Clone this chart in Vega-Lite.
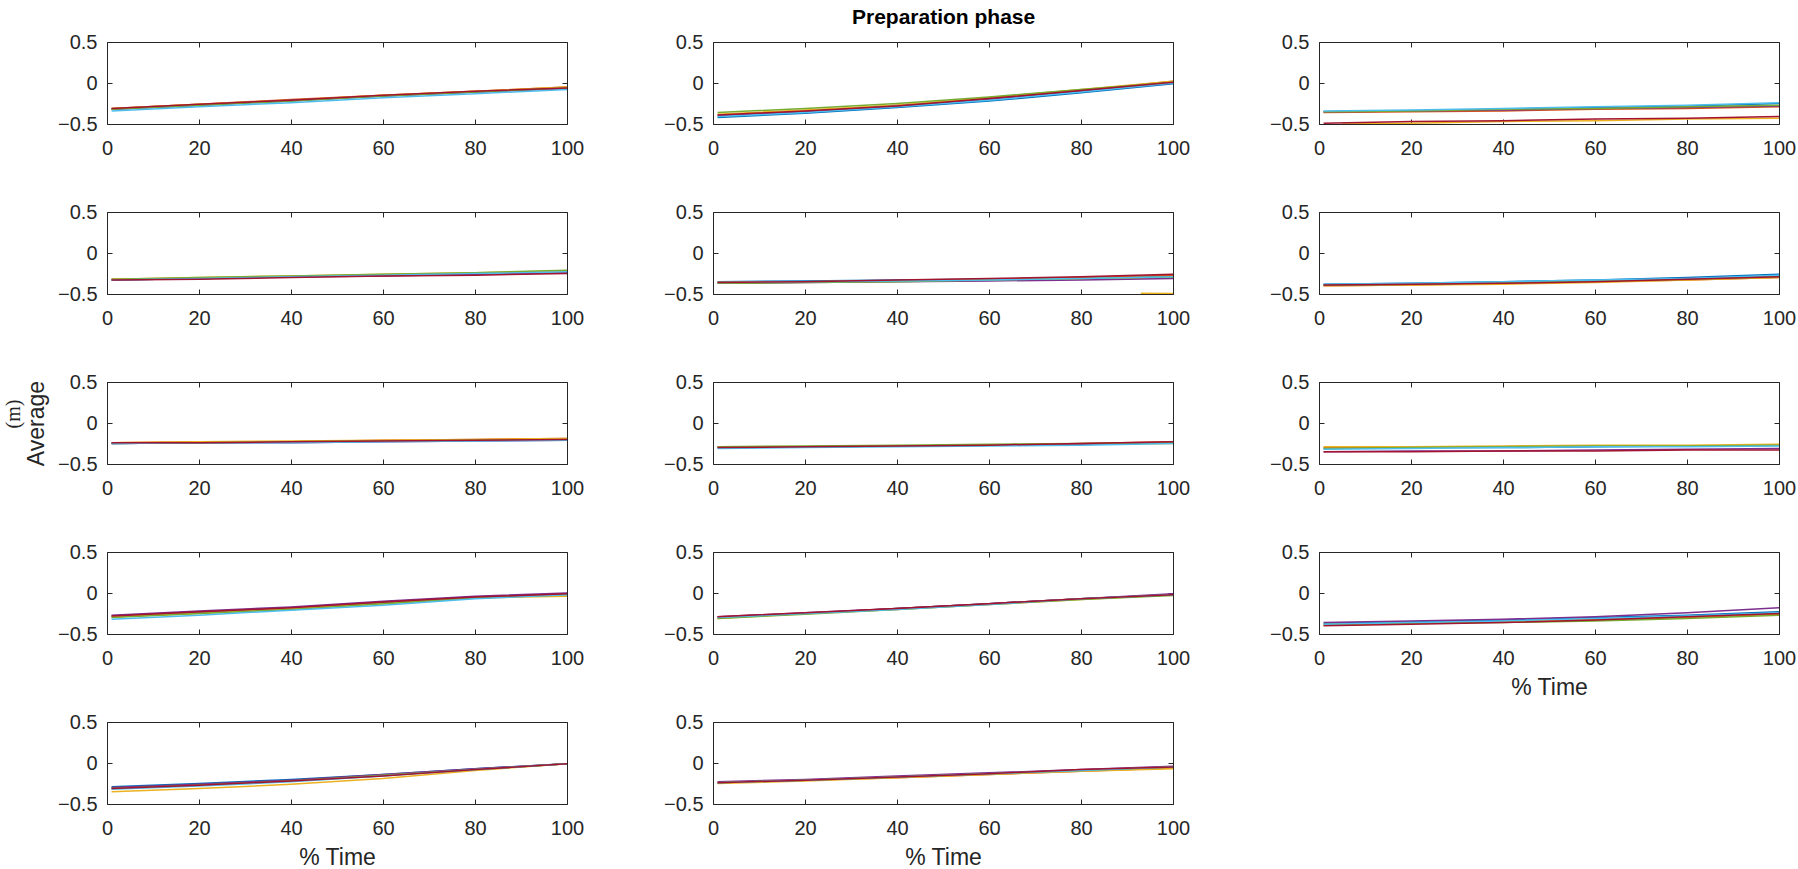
{
"$schema":"https://vega.github.io/schema/vega-lite/v6.json",
"autosize":{"type":"none"},
"padding":{"left":107,"top":42,"right":1691,"bottom":827},
"title":{"text":"Preparation phase","anchor":"middle","fontSize":21,"fontWeight":"bold","font":"Liberation Sans","color":"#000000","offset":5,"dy":18,"dx":44,"baseline":"alphabetic"},
"data":{"values":[
{"p":1,"s":1,"x":1,"y":-0.32},{"p":1,"s":1,"x":20,"y":-0.27},{"p":1,"s":1,"x":40,"y":-0.22},{"p":1,"s":1,"x":60,"y":-0.16},{"p":1,"s":1,"x":80,"y":-0.11},{"p":1,"s":1,"x":100,"y":-0.06},
{"p":1,"s":2,"x":1,"y":-0.31},{"p":1,"s":2,"x":20,"y":-0.26},{"p":1,"s":2,"x":40,"y":-0.20},{"p":1,"s":2,"x":60,"y":-0.15},{"p":1,"s":2,"x":80,"y":-0.10},{"p":1,"s":2,"x":100,"y":-0.05},
{"p":1,"s":3,"x":1,"y":-0.31},{"p":1,"s":3,"x":20,"y":-0.26},{"p":1,"s":3,"x":40,"y":-0.21},{"p":1,"s":3,"x":60,"y":-0.15},{"p":1,"s":3,"x":80,"y":-0.10},{"p":1,"s":3,"x":100,"y":-0.05},
{"p":1,"s":4,"x":1,"y":-0.32},{"p":1,"s":4,"x":20,"y":-0.27},{"p":1,"s":4,"x":40,"y":-0.21},{"p":1,"s":4,"x":60,"y":-0.16},{"p":1,"s":4,"x":80,"y":-0.11},{"p":1,"s":4,"x":100,"y":-0.07},
{"p":1,"s":5,"x":1,"y":-0.32},{"p":1,"s":5,"x":20,"y":-0.27},{"p":1,"s":5,"x":40,"y":-0.22},{"p":1,"s":5,"x":60,"y":-0.16},{"p":1,"s":5,"x":80,"y":-0.11},{"p":1,"s":5,"x":100,"y":-0.06},
{"p":1,"s":6,"x":1,"y":-0.34},{"p":1,"s":6,"x":20,"y":-0.29},{"p":1,"s":6,"x":40,"y":-0.24},{"p":1,"s":6,"x":60,"y":-0.18},{"p":1,"s":6,"x":80,"y":-0.13},{"p":1,"s":6,"x":100,"y":-0.08},
{"p":1,"s":7,"x":1,"y":-0.31},{"p":1,"s":7,"x":20,"y":-0.26},{"p":1,"s":7,"x":40,"y":-0.21},{"p":1,"s":7,"x":60,"y":-0.15},{"p":1,"s":7,"x":80,"y":-0.10},{"p":1,"s":7,"x":100,"y":-0.06},
{"p":2,"s":1,"x":1,"y":-0.42},{"p":2,"s":1,"x":20,"y":-0.37},{"p":2,"s":1,"x":40,"y":-0.30},{"p":2,"s":1,"x":60,"y":-0.22},{"p":2,"s":1,"x":80,"y":-0.12},{"p":2,"s":1,"x":100,"y":-0.01},
{"p":2,"s":2,"x":1,"y":-0.39},{"p":2,"s":2,"x":20,"y":-0.34},{"p":2,"s":2,"x":40,"y":-0.27},{"p":2,"s":2,"x":60,"y":-0.19},{"p":2,"s":2,"x":80,"y":-0.09},{"p":2,"s":2,"x":100,"y":0.02},
{"p":2,"s":3,"x":1,"y":-0.38},{"p":2,"s":3,"x":20,"y":-0.33},{"p":2,"s":3,"x":40,"y":-0.27},{"p":2,"s":3,"x":60,"y":-0.18},{"p":2,"s":3,"x":80,"y":-0.08},{"p":2,"s":3,"x":100,"y":0.02},
{"p":2,"s":4,"x":1,"y":-0.40},{"p":2,"s":4,"x":20,"y":-0.35},{"p":2,"s":4,"x":40,"y":-0.28},{"p":2,"s":4,"x":60,"y":-0.20},{"p":2,"s":4,"x":80,"y":-0.10},{"p":2,"s":4,"x":100,"y":0.00},
{"p":2,"s":5,"x":1,"y":-0.36},{"p":2,"s":5,"x":20,"y":-0.31},{"p":2,"s":5,"x":40,"y":-0.25},{"p":2,"s":5,"x":60,"y":-0.17},{"p":2,"s":5,"x":80,"y":-0.08},{"p":2,"s":5,"x":100,"y":0.01},
{"p":2,"s":6,"x":1,"y":-0.41},{"p":2,"s":6,"x":20,"y":-0.36},{"p":2,"s":6,"x":40,"y":-0.29},{"p":2,"s":6,"x":60,"y":-0.21},{"p":2,"s":6,"x":80,"y":-0.11},{"p":2,"s":6,"x":100,"y":0.00},
{"p":2,"s":7,"x":1,"y":-0.39},{"p":2,"s":7,"x":20,"y":-0.34},{"p":2,"s":7,"x":40,"y":-0.28},{"p":2,"s":7,"x":60,"y":-0.19},{"p":2,"s":7,"x":80,"y":-0.09},{"p":2,"s":7,"x":100,"y":0.01},
{"p":3,"s":1,"x":1,"y":-0.35},{"p":3,"s":1,"x":20,"y":-0.34},{"p":3,"s":1,"x":40,"y":-0.32},{"p":3,"s":1,"x":60,"y":-0.30},{"p":3,"s":1,"x":80,"y":-0.28},{"p":3,"s":1,"x":100,"y":-0.25},
{"p":3,"s":2,"x":1,"y":-0.36},{"p":3,"s":2,"x":20,"y":-0.35},{"p":3,"s":2,"x":40,"y":-0.34},{"p":3,"s":2,"x":60,"y":-0.32},{"p":3,"s":2,"x":80,"y":-0.31},{"p":3,"s":2,"x":100,"y":-0.29},
{"p":3,"s":3,"x":5,"y":-0.50},{"p":3,"s":3,"x":20,"y":-0.49},{"p":3,"s":3,"x":40,"y":-0.47},{"p":3,"s":3,"x":60,"y":-0.46},{"p":3,"s":3,"x":80,"y":-0.44},{"p":3,"s":3,"x":100,"y":-0.43},
{"p":3,"s":4,"x":1,"y":-0.35},{"p":3,"s":4,"x":20,"y":-0.34},{"p":3,"s":4,"x":40,"y":-0.33},{"p":3,"s":4,"x":60,"y":-0.31},{"p":3,"s":4,"x":80,"y":-0.30},{"p":3,"s":4,"x":100,"y":-0.28},
{"p":3,"s":5,"x":1,"y":-0.35},{"p":3,"s":5,"x":20,"y":-0.34},{"p":3,"s":5,"x":40,"y":-0.32},{"p":3,"s":5,"x":60,"y":-0.31},{"p":3,"s":5,"x":80,"y":-0.29},{"p":3,"s":5,"x":100,"y":-0.27},
{"p":3,"s":6,"x":1,"y":-0.34},{"p":3,"s":6,"x":20,"y":-0.33},{"p":3,"s":6,"x":40,"y":-0.31},{"p":3,"s":6,"x":60,"y":-0.29},{"p":3,"s":6,"x":80,"y":-0.27},{"p":3,"s":6,"x":100,"y":-0.24},
{"p":3,"s":7,"x":1,"y":-0.49},{"p":3,"s":7,"x":20,"y":-0.47},{"p":3,"s":7,"x":40,"y":-0.46},{"p":3,"s":7,"x":60,"y":-0.44},{"p":3,"s":7,"x":80,"y":-0.43},{"p":3,"s":7,"x":100,"y":-0.41},
{"p":4,"s":1,"x":1,"y":-0.33},{"p":4,"s":1,"x":20,"y":-0.31},{"p":4,"s":1,"x":40,"y":-0.29},{"p":4,"s":1,"x":60,"y":-0.27},{"p":4,"s":1,"x":80,"y":-0.25},{"p":4,"s":1,"x":100,"y":-0.22},
{"p":4,"s":2,"x":1,"y":-0.32},{"p":4,"s":2,"x":20,"y":-0.31},{"p":4,"s":2,"x":40,"y":-0.29},{"p":4,"s":2,"x":60,"y":-0.27},{"p":4,"s":2,"x":80,"y":-0.25},{"p":4,"s":2,"x":100,"y":-0.23},
{"p":4,"s":3,"x":1,"y":-0.32},{"p":4,"s":3,"x":20,"y":-0.30},{"p":4,"s":3,"x":40,"y":-0.28},{"p":4,"s":3,"x":60,"y":-0.26},{"p":4,"s":3,"x":80,"y":-0.24},{"p":4,"s":3,"x":100,"y":-0.22},
{"p":4,"s":4,"x":1,"y":-0.33},{"p":4,"s":4,"x":20,"y":-0.31},{"p":4,"s":4,"x":40,"y":-0.29},{"p":4,"s":4,"x":60,"y":-0.28},{"p":4,"s":4,"x":80,"y":-0.26},{"p":4,"s":4,"x":100,"y":-0.24},
{"p":4,"s":5,"x":1,"y":-0.32},{"p":4,"s":5,"x":20,"y":-0.30},{"p":4,"s":5,"x":40,"y":-0.28},{"p":4,"s":5,"x":60,"y":-0.26},{"p":4,"s":5,"x":80,"y":-0.24},{"p":4,"s":5,"x":100,"y":-0.21},
{"p":4,"s":6,"x":1,"y":-0.33},{"p":4,"s":6,"x":20,"y":-0.31},{"p":4,"s":6,"x":40,"y":-0.29},{"p":4,"s":6,"x":60,"y":-0.27},{"p":4,"s":6,"x":80,"y":-0.25},{"p":4,"s":6,"x":100,"y":-0.23},
{"p":4,"s":7,"x":1,"y":-0.33},{"p":4,"s":7,"x":20,"y":-0.32},{"p":4,"s":7,"x":40,"y":-0.30},{"p":4,"s":7,"x":60,"y":-0.28},{"p":4,"s":7,"x":80,"y":-0.27},{"p":4,"s":7,"x":100,"y":-0.25},
{"p":5,"s":1,"x":1,"y":-0.35},{"p":5,"s":1,"x":20,"y":-0.34},{"p":5,"s":1,"x":40,"y":-0.33},{"p":5,"s":1,"x":60,"y":-0.32},{"p":5,"s":1,"x":80,"y":-0.30},{"p":5,"s":1,"x":100,"y":-0.28},
{"p":5,"s":2,"x":1,"y":-0.36},{"p":5,"s":2,"x":20,"y":-0.35},{"p":5,"s":2,"x":40,"y":-0.34},{"p":5,"s":2,"x":60,"y":-0.32},{"p":5,"s":2,"x":80,"y":-0.30},{"p":5,"s":2,"x":100,"y":-0.27},
{"p":5,"s":3,"x":1,"y":-0.36},{"p":5,"s":3,"x":20,"y":-0.35},{"p":5,"s":3,"x":40,"y":-0.34},{"p":5,"s":3,"x":60,"y":-0.33},{"p":5,"s":3,"x":80,"y":-0.32},{"p":5,"s":3,"x":100,"y":-0.30},
{"p":5,"s":4,"x":1,"y":-0.37},{"p":5,"s":4,"x":20,"y":-0.36},{"p":5,"s":4,"x":40,"y":-0.35},{"p":5,"s":4,"x":60,"y":-0.34},{"p":5,"s":4,"x":80,"y":-0.33},{"p":5,"s":4,"x":100,"y":-0.31},
{"p":5,"s":5,"x":1,"y":-0.37},{"p":5,"s":5,"x":20,"y":-0.36},{"p":5,"s":5,"x":40,"y":-0.35},{"p":5,"s":5,"x":60,"y":-0.33},{"p":5,"s":5,"x":80,"y":-0.31},{"p":5,"s":5,"x":100,"y":-0.29},
{"p":5,"s":6,"x":1,"y":-0.36},{"p":5,"s":6,"x":20,"y":-0.35},{"p":5,"s":6,"x":40,"y":-0.34},{"p":5,"s":6,"x":60,"y":-0.33},{"p":5,"s":6,"x":80,"y":-0.31},{"p":5,"s":6,"x":100,"y":-0.29},
{"p":5,"s":7,"x":1,"y":-0.36},{"p":5,"s":7,"x":20,"y":-0.35},{"p":5,"s":7,"x":40,"y":-0.33},{"p":5,"s":7,"x":60,"y":-0.31},{"p":5,"s":7,"x":80,"y":-0.29},{"p":5,"s":7,"x":100,"y":-0.26},
{"p":5,"s":8,"x":93,"y":-0.49},{"p":5,"s":8,"x":100,"y":-0.495},
{"p":6,"s":1,"x":1,"y":-0.38},{"p":6,"s":1,"x":20,"y":-0.37},{"p":6,"s":1,"x":40,"y":-0.35},{"p":6,"s":1,"x":60,"y":-0.33},{"p":6,"s":1,"x":80,"y":-0.30},{"p":6,"s":1,"x":100,"y":-0.26},
{"p":6,"s":2,"x":1,"y":-0.40},{"p":6,"s":2,"x":20,"y":-0.39},{"p":6,"s":2,"x":40,"y":-0.37},{"p":6,"s":2,"x":60,"y":-0.35},{"p":6,"s":2,"x":80,"y":-0.33},{"p":6,"s":2,"x":100,"y":-0.30},
{"p":6,"s":3,"x":1,"y":-0.40},{"p":6,"s":3,"x":20,"y":-0.39},{"p":6,"s":3,"x":40,"y":-0.38},{"p":6,"s":3,"x":60,"y":-0.36},{"p":6,"s":3,"x":80,"y":-0.33},{"p":6,"s":3,"x":100,"y":-0.30},
{"p":6,"s":4,"x":1,"y":-0.39},{"p":6,"s":4,"x":20,"y":-0.38},{"p":6,"s":4,"x":40,"y":-0.36},{"p":6,"s":4,"x":60,"y":-0.34},{"p":6,"s":4,"x":80,"y":-0.31},{"p":6,"s":4,"x":100,"y":-0.28},
{"p":6,"s":5,"x":1,"y":-0.39},{"p":6,"s":5,"x":20,"y":-0.38},{"p":6,"s":5,"x":40,"y":-0.36},{"p":6,"s":5,"x":60,"y":-0.34},{"p":6,"s":5,"x":80,"y":-0.32},{"p":6,"s":5,"x":100,"y":-0.29},
{"p":6,"s":6,"x":1,"y":-0.38},{"p":6,"s":6,"x":20,"y":-0.37},{"p":6,"s":6,"x":40,"y":-0.35},{"p":6,"s":6,"x":60,"y":-0.33},{"p":6,"s":6,"x":80,"y":-0.31},{"p":6,"s":6,"x":100,"y":-0.27},
{"p":6,"s":7,"x":1,"y":-0.39},{"p":6,"s":7,"x":20,"y":-0.38},{"p":6,"s":7,"x":40,"y":-0.37},{"p":6,"s":7,"x":60,"y":-0.35},{"p":6,"s":7,"x":80,"y":-0.32},{"p":6,"s":7,"x":100,"y":-0.29},
{"p":7,"s":1,"x":1,"y":-0.25},{"p":7,"s":1,"x":20,"y":-0.24},{"p":7,"s":1,"x":40,"y":-0.23},{"p":7,"s":1,"x":60,"y":-0.22},{"p":7,"s":1,"x":80,"y":-0.21},{"p":7,"s":1,"x":100,"y":-0.20},
{"p":7,"s":2,"x":1,"y":-0.24},{"p":7,"s":2,"x":20,"y":-0.23},{"p":7,"s":2,"x":40,"y":-0.23},{"p":7,"s":2,"x":60,"y":-0.21},{"p":7,"s":2,"x":80,"y":-0.20},{"p":7,"s":2,"x":100,"y":-0.19},
{"p":7,"s":3,"x":1,"y":-0.24},{"p":7,"s":3,"x":20,"y":-0.23},{"p":7,"s":3,"x":40,"y":-0.22},{"p":7,"s":3,"x":60,"y":-0.21},{"p":7,"s":3,"x":80,"y":-0.20},{"p":7,"s":3,"x":100,"y":-0.19},
{"p":7,"s":4,"x":1,"y":-0.25},{"p":7,"s":4,"x":20,"y":-0.24},{"p":7,"s":4,"x":40,"y":-0.24},{"p":7,"s":4,"x":60,"y":-0.23},{"p":7,"s":4,"x":80,"y":-0.22},{"p":7,"s":4,"x":100,"y":-0.21},
{"p":7,"s":5,"x":1,"y":-0.25},{"p":7,"s":5,"x":20,"y":-0.24},{"p":7,"s":5,"x":40,"y":-0.23},{"p":7,"s":5,"x":60,"y":-0.22},{"p":7,"s":5,"x":80,"y":-0.21},{"p":7,"s":5,"x":100,"y":-0.20},
{"p":7,"s":6,"x":1,"y":-0.25},{"p":7,"s":6,"x":20,"y":-0.24},{"p":7,"s":6,"x":40,"y":-0.24},{"p":7,"s":6,"x":60,"y":-0.23},{"p":7,"s":6,"x":80,"y":-0.22},{"p":7,"s":6,"x":100,"y":-0.21},
{"p":7,"s":7,"x":1,"y":-0.24},{"p":7,"s":7,"x":20,"y":-0.24},{"p":7,"s":7,"x":40,"y":-0.23},{"p":7,"s":7,"x":60,"y":-0.22},{"p":7,"s":7,"x":80,"y":-0.21},{"p":7,"s":7,"x":100,"y":-0.20},
{"p":8,"s":1,"x":1,"y":-0.30},{"p":8,"s":1,"x":20,"y":-0.29},{"p":8,"s":1,"x":40,"y":-0.28},{"p":8,"s":1,"x":60,"y":-0.27},{"p":8,"s":1,"x":80,"y":-0.26},{"p":8,"s":1,"x":100,"y":-0.24},
{"p":8,"s":2,"x":1,"y":-0.29},{"p":8,"s":2,"x":20,"y":-0.29},{"p":8,"s":2,"x":40,"y":-0.28},{"p":8,"s":2,"x":60,"y":-0.27},{"p":8,"s":2,"x":80,"y":-0.25},{"p":8,"s":2,"x":100,"y":-0.23},
{"p":8,"s":3,"x":1,"y":-0.30},{"p":8,"s":3,"x":20,"y":-0.29},{"p":8,"s":3,"x":40,"y":-0.28},{"p":8,"s":3,"x":60,"y":-0.27},{"p":8,"s":3,"x":80,"y":-0.26},{"p":8,"s":3,"x":100,"y":-0.25},
{"p":8,"s":4,"x":1,"y":-0.30},{"p":8,"s":4,"x":20,"y":-0.29},{"p":8,"s":4,"x":40,"y":-0.28},{"p":8,"s":4,"x":60,"y":-0.27},{"p":8,"s":4,"x":80,"y":-0.26},{"p":8,"s":4,"x":100,"y":-0.24},
{"p":8,"s":5,"x":1,"y":-0.29},{"p":8,"s":5,"x":20,"y":-0.28},{"p":8,"s":5,"x":40,"y":-0.27},{"p":8,"s":5,"x":60,"y":-0.26},{"p":8,"s":5,"x":80,"y":-0.25},{"p":8,"s":5,"x":100,"y":-0.24},
{"p":8,"s":6,"x":1,"y":-0.31},{"p":8,"s":6,"x":20,"y":-0.30},{"p":8,"s":6,"x":40,"y":-0.29},{"p":8,"s":6,"x":60,"y":-0.28},{"p":8,"s":6,"x":80,"y":-0.27},{"p":8,"s":6,"x":100,"y":-0.25},
{"p":8,"s":7,"x":1,"y":-0.30},{"p":8,"s":7,"x":20,"y":-0.29},{"p":8,"s":7,"x":40,"y":-0.28},{"p":8,"s":7,"x":60,"y":-0.27},{"p":8,"s":7,"x":80,"y":-0.25},{"p":8,"s":7,"x":100,"y":-0.23},
{"p":9,"s":1,"x":1,"y":-0.31},{"p":9,"s":1,"x":20,"y":-0.30},{"p":9,"s":1,"x":40,"y":-0.30},{"p":9,"s":1,"x":60,"y":-0.29},{"p":9,"s":1,"x":80,"y":-0.28},{"p":9,"s":1,"x":100,"y":-0.27},
{"p":9,"s":2,"x":1,"y":-0.30},{"p":9,"s":2,"x":20,"y":-0.30},{"p":9,"s":2,"x":40,"y":-0.29},{"p":9,"s":2,"x":60,"y":-0.28},{"p":9,"s":2,"x":80,"y":-0.28},{"p":9,"s":2,"x":100,"y":-0.27},
{"p":9,"s":3,"x":1,"y":-0.29},{"p":9,"s":3,"x":20,"y":-0.29},{"p":9,"s":3,"x":40,"y":-0.28},{"p":9,"s":3,"x":60,"y":-0.27},{"p":9,"s":3,"x":80,"y":-0.27},{"p":9,"s":3,"x":100,"y":-0.26},
{"p":9,"s":4,"x":1,"y":-0.35},{"p":9,"s":4,"x":20,"y":-0.34},{"p":9,"s":4,"x":40,"y":-0.34},{"p":9,"s":4,"x":60,"y":-0.33},{"p":9,"s":4,"x":80,"y":-0.32},{"p":9,"s":4,"x":100,"y":-0.31},
{"p":9,"s":5,"x":1,"y":-0.31},{"p":9,"s":5,"x":20,"y":-0.30},{"p":9,"s":5,"x":40,"y":-0.29},{"p":9,"s":5,"x":60,"y":-0.28},{"p":9,"s":5,"x":80,"y":-0.28},{"p":9,"s":5,"x":100,"y":-0.27},
{"p":9,"s":6,"x":1,"y":-0.32},{"p":9,"s":6,"x":20,"y":-0.31},{"p":9,"s":6,"x":40,"y":-0.30},{"p":9,"s":6,"x":60,"y":-0.29},{"p":9,"s":6,"x":80,"y":-0.29},{"p":9,"s":6,"x":100,"y":-0.28},
{"p":9,"s":7,"x":1,"y":-0.35},{"p":9,"s":7,"x":20,"y":-0.35},{"p":9,"s":7,"x":40,"y":-0.34},{"p":9,"s":7,"x":60,"y":-0.34},{"p":9,"s":7,"x":80,"y":-0.33},{"p":9,"s":7,"x":100,"y":-0.33},
{"p":10,"s":1,"x":1,"y":-0.29},{"p":10,"s":1,"x":20,"y":-0.24},{"p":10,"s":1,"x":40,"y":-0.19},{"p":10,"s":1,"x":60,"y":-0.12},{"p":10,"s":1,"x":80,"y":-0.05},{"p":10,"s":1,"x":100,"y":-0.01},
{"p":10,"s":2,"x":1,"y":-0.28},{"p":10,"s":2,"x":20,"y":-0.23},{"p":10,"s":2,"x":40,"y":-0.18},{"p":10,"s":2,"x":60,"y":-0.11},{"p":10,"s":2,"x":80,"y":-0.05},{"p":10,"s":2,"x":100,"y":-0.01},
{"p":10,"s":3,"x":1,"y":-0.29},{"p":10,"s":3,"x":20,"y":-0.25},{"p":10,"s":3,"x":40,"y":-0.19},{"p":10,"s":3,"x":60,"y":-0.13},{"p":10,"s":3,"x":80,"y":-0.06},{"p":10,"s":3,"x":100,"y":-0.04},
{"p":10,"s":4,"x":1,"y":-0.27},{"p":10,"s":4,"x":20,"y":-0.22},{"p":10,"s":4,"x":40,"y":-0.17},{"p":10,"s":4,"x":60,"y":-0.10},{"p":10,"s":4,"x":80,"y":-0.04},{"p":10,"s":4,"x":100,"y":0.00},
{"p":10,"s":5,"x":1,"y":-0.30},{"p":10,"s":5,"x":20,"y":-0.25},{"p":10,"s":5,"x":40,"y":-0.20},{"p":10,"s":5,"x":60,"y":-0.13},{"p":10,"s":5,"x":80,"y":-0.06},{"p":10,"s":5,"x":100,"y":-0.02},
{"p":10,"s":6,"x":1,"y":-0.32},{"p":10,"s":6,"x":20,"y":-0.27},{"p":10,"s":6,"x":40,"y":-0.21},{"p":10,"s":6,"x":60,"y":-0.15},{"p":10,"s":6,"x":80,"y":-0.07},{"p":10,"s":6,"x":100,"y":-0.02},
{"p":10,"s":7,"x":1,"y":-0.28},{"p":10,"s":7,"x":20,"y":-0.23},{"p":10,"s":7,"x":40,"y":-0.18},{"p":10,"s":7,"x":60,"y":-0.11},{"p":10,"s":7,"x":80,"y":-0.05},{"p":10,"s":7,"x":100,"y":-0.01},
{"p":11,"s":1,"x":1,"y":-0.30},{"p":11,"s":1,"x":20,"y":-0.25},{"p":11,"s":1,"x":40,"y":-0.19},{"p":11,"s":1,"x":60,"y":-0.13},{"p":11,"s":1,"x":80,"y":-0.07},{"p":11,"s":1,"x":100,"y":-0.02},
{"p":11,"s":2,"x":1,"y":-0.30},{"p":11,"s":2,"x":20,"y":-0.25},{"p":11,"s":2,"x":40,"y":-0.19},{"p":11,"s":2,"x":60,"y":-0.13},{"p":11,"s":2,"x":80,"y":-0.07},{"p":11,"s":2,"x":100,"y":-0.02},
{"p":11,"s":3,"x":1,"y":-0.31},{"p":11,"s":3,"x":20,"y":-0.25},{"p":11,"s":3,"x":40,"y":-0.20},{"p":11,"s":3,"x":60,"y":-0.14},{"p":11,"s":3,"x":80,"y":-0.08},{"p":11,"s":3,"x":100,"y":-0.02},
{"p":11,"s":4,"x":1,"y":-0.29},{"p":11,"s":4,"x":20,"y":-0.24},{"p":11,"s":4,"x":40,"y":-0.19},{"p":11,"s":4,"x":60,"y":-0.13},{"p":11,"s":4,"x":80,"y":-0.07},{"p":11,"s":4,"x":100,"y":-0.01},
{"p":11,"s":5,"x":1,"y":-0.31},{"p":11,"s":5,"x":20,"y":-0.26},{"p":11,"s":5,"x":40,"y":-0.20},{"p":11,"s":5,"x":60,"y":-0.14},{"p":11,"s":5,"x":80,"y":-0.08},{"p":11,"s":5,"x":100,"y":-0.03},
{"p":11,"s":6,"x":1,"y":-0.30},{"p":11,"s":6,"x":20,"y":-0.25},{"p":11,"s":6,"x":40,"y":-0.20},{"p":11,"s":6,"x":60,"y":-0.14},{"p":11,"s":6,"x":80,"y":-0.07},{"p":11,"s":6,"x":100,"y":-0.02},
{"p":11,"s":7,"x":1,"y":-0.29},{"p":11,"s":7,"x":20,"y":-0.24},{"p":11,"s":7,"x":40,"y":-0.19},{"p":11,"s":7,"x":60,"y":-0.13},{"p":11,"s":7,"x":80,"y":-0.07},{"p":11,"s":7,"x":100,"y":-0.02},
{"p":12,"s":1,"x":1,"y":-0.37},{"p":12,"s":1,"x":20,"y":-0.35},{"p":12,"s":1,"x":40,"y":-0.33},{"p":12,"s":1,"x":60,"y":-0.30},{"p":12,"s":1,"x":80,"y":-0.27},{"p":12,"s":1,"x":100,"y":-0.23},
{"p":12,"s":2,"x":1,"y":-0.39},{"p":12,"s":2,"x":20,"y":-0.37},{"p":12,"s":2,"x":40,"y":-0.35},{"p":12,"s":2,"x":60,"y":-0.33},{"p":12,"s":2,"x":80,"y":-0.30},{"p":12,"s":2,"x":100,"y":-0.26},
{"p":12,"s":3,"x":1,"y":-0.39},{"p":12,"s":3,"x":20,"y":-0.37},{"p":12,"s":3,"x":40,"y":-0.35},{"p":12,"s":3,"x":60,"y":-0.32},{"p":12,"s":3,"x":80,"y":-0.29},{"p":12,"s":3,"x":100,"y":-0.25},
{"p":12,"s":4,"x":1,"y":-0.36},{"p":12,"s":4,"x":20,"y":-0.34},{"p":12,"s":4,"x":40,"y":-0.32},{"p":12,"s":4,"x":60,"y":-0.29},{"p":12,"s":4,"x":80,"y":-0.24},{"p":12,"s":4,"x":100,"y":-0.18},
{"p":12,"s":5,"x":1,"y":-0.38},{"p":12,"s":5,"x":20,"y":-0.37},{"p":12,"s":5,"x":40,"y":-0.36},{"p":12,"s":5,"x":60,"y":-0.34},{"p":12,"s":5,"x":80,"y":-0.31},{"p":12,"s":5,"x":100,"y":-0.27},
{"p":12,"s":6,"x":1,"y":-0.38},{"p":12,"s":6,"x":20,"y":-0.36},{"p":12,"s":6,"x":40,"y":-0.34},{"p":12,"s":6,"x":60,"y":-0.31},{"p":12,"s":6,"x":80,"y":-0.28},{"p":12,"s":6,"x":100,"y":-0.24},
{"p":12,"s":7,"x":1,"y":-0.40},{"p":12,"s":7,"x":20,"y":-0.38},{"p":12,"s":7,"x":40,"y":-0.36},{"p":12,"s":7,"x":60,"y":-0.33},{"p":12,"s":7,"x":80,"y":-0.29},{"p":12,"s":7,"x":100,"y":-0.25},
{"p":13,"s":1,"x":1,"y":-0.29},{"p":13,"s":1,"x":20,"y":-0.25},{"p":13,"s":1,"x":40,"y":-0.20},{"p":13,"s":1,"x":60,"y":-0.14},{"p":13,"s":1,"x":80,"y":-0.07},{"p":13,"s":1,"x":100,"y":-0.01},
{"p":13,"s":2,"x":1,"y":-0.31},{"p":13,"s":2,"x":20,"y":-0.27},{"p":13,"s":2,"x":40,"y":-0.22},{"p":13,"s":2,"x":60,"y":-0.15},{"p":13,"s":2,"x":80,"y":-0.08},{"p":13,"s":2,"x":100,"y":-0.01},
{"p":13,"s":3,"x":1,"y":-0.35},{"p":13,"s":3,"x":20,"y":-0.31},{"p":13,"s":3,"x":40,"y":-0.26},{"p":13,"s":3,"x":60,"y":-0.19},{"p":13,"s":3,"x":80,"y":-0.09},{"p":13,"s":3,"x":100,"y":-0.01},
{"p":13,"s":4,"x":1,"y":-0.30},{"p":13,"s":4,"x":20,"y":-0.26},{"p":13,"s":4,"x":40,"y":-0.21},{"p":13,"s":4,"x":60,"y":-0.14},{"p":13,"s":4,"x":80,"y":-0.07},{"p":13,"s":4,"x":100,"y":-0.01},
{"p":13,"s":5,"x":1,"y":-0.31},{"p":13,"s":5,"x":20,"y":-0.27},{"p":13,"s":5,"x":40,"y":-0.22},{"p":13,"s":5,"x":60,"y":-0.15},{"p":13,"s":5,"x":80,"y":-0.08},{"p":13,"s":5,"x":100,"y":-0.01},
{"p":13,"s":6,"x":1,"y":-0.32},{"p":13,"s":6,"x":20,"y":-0.28},{"p":13,"s":6,"x":40,"y":-0.23},{"p":13,"s":6,"x":60,"y":-0.16},{"p":13,"s":6,"x":80,"y":-0.08},{"p":13,"s":6,"x":100,"y":-0.01},
{"p":13,"s":7,"x":1,"y":-0.31},{"p":13,"s":7,"x":20,"y":-0.27},{"p":13,"s":7,"x":40,"y":-0.22},{"p":13,"s":7,"x":60,"y":-0.16},{"p":13,"s":7,"x":80,"y":-0.08},{"p":13,"s":7,"x":100,"y":-0.01},
{"p":14,"s":1,"x":1,"y":-0.24},{"p":14,"s":1,"x":20,"y":-0.21},{"p":14,"s":1,"x":40,"y":-0.17},{"p":14,"s":1,"x":60,"y":-0.13},{"p":14,"s":1,"x":80,"y":-0.09},{"p":14,"s":1,"x":100,"y":-0.05},
{"p":14,"s":2,"x":1,"y":-0.24},{"p":14,"s":2,"x":20,"y":-0.21},{"p":14,"s":2,"x":40,"y":-0.18},{"p":14,"s":2,"x":60,"y":-0.14},{"p":14,"s":2,"x":80,"y":-0.10},{"p":14,"s":2,"x":100,"y":-0.06},
{"p":14,"s":3,"x":1,"y":-0.25},{"p":14,"s":3,"x":20,"y":-0.22},{"p":14,"s":3,"x":40,"y":-0.18},{"p":14,"s":3,"x":60,"y":-0.14},{"p":14,"s":3,"x":80,"y":-0.10},{"p":14,"s":3,"x":100,"y":-0.07},
{"p":14,"s":4,"x":1,"y":-0.23},{"p":14,"s":4,"x":20,"y":-0.20},{"p":14,"s":4,"x":40,"y":-0.16},{"p":14,"s":4,"x":60,"y":-0.12},{"p":14,"s":4,"x":80,"y":-0.08},{"p":14,"s":4,"x":100,"y":-0.04},
{"p":14,"s":5,"x":1,"y":-0.24},{"p":14,"s":5,"x":20,"y":-0.21},{"p":14,"s":5,"x":40,"y":-0.17},{"p":14,"s":5,"x":60,"y":-0.13},{"p":14,"s":5,"x":80,"y":-0.09},{"p":14,"s":5,"x":100,"y":-0.05},
{"p":14,"s":6,"x":1,"y":-0.24},{"p":14,"s":6,"x":20,"y":-0.21},{"p":14,"s":6,"x":40,"y":-0.17},{"p":14,"s":6,"x":60,"y":-0.13},{"p":14,"s":6,"x":80,"y":-0.09},{"p":14,"s":6,"x":100,"y":-0.05},
{"p":14,"s":7,"x":1,"y":-0.24},{"p":14,"s":7,"x":20,"y":-0.21},{"p":14,"s":7,"x":40,"y":-0.17},{"p":14,"s":7,"x":60,"y":-0.13},{"p":14,"s":7,"x":80,"y":-0.08},{"p":14,"s":7,"x":100,"y":-0.05}
]},
"columns":3,
"spacing":{"row":88,"column":146},
"bounds":"flush",
"concat":[
{"width":460,"height":82,"transform":[{"filter":{"field":"p","equal":1}}],"layer":[{"mark":{"type":"line","clip":true},"encoding":{"x":{"field":"x","type":"quantitative","scale":{"domain":[0,100],"nice":false},"axis":{"orient":"bottom","values":[0,20,40,60,80,100],"title":null}},"y":{"field":"y","type":"quantitative","scale":{"domain":[-0.5,0.5],"nice":false},"axis":{"orient":"left","values":[-0.5,0,0.5],"format":".1~f","title":null}},"color":{"field":"s","type":"nominal"}}},{"mark":{"type":"line","opacity":0},"encoding":{"x":{"field":"x","type":"quantitative","axis":{"orient":"top","values":[0,20,40,60,80,100],"labels":false,"title":null}},"y":{"field":"y","type":"quantitative","axis":{"orient":"right","values":[-0.5,0,0.5],"labels":false,"title":null}}}}],"resolve":{"axis":{"x":"independent","y":"independent"}}},
{"width":460,"height":82,"transform":[{"filter":{"field":"p","equal":2}}],"layer":[{"mark":{"type":"line","clip":true},"encoding":{"x":{"field":"x","type":"quantitative","scale":{"domain":[0,100],"nice":false},"axis":{"orient":"bottom","values":[0,20,40,60,80,100],"title":null}},"y":{"field":"y","type":"quantitative","scale":{"domain":[-0.5,0.5],"nice":false},"axis":{"orient":"left","values":[-0.5,0,0.5],"format":".1~f","title":null}},"color":{"field":"s","type":"nominal"}}},{"mark":{"type":"line","opacity":0},"encoding":{"x":{"field":"x","type":"quantitative","axis":{"orient":"top","values":[0,20,40,60,80,100],"labels":false,"title":null}},"y":{"field":"y","type":"quantitative","axis":{"orient":"right","values":[-0.5,0,0.5],"labels":false,"title":null}}}}],"resolve":{"axis":{"x":"independent","y":"independent"}}},
{"width":460,"height":82,"transform":[{"filter":{"field":"p","equal":3}}],"layer":[{"mark":{"type":"line","clip":true},"encoding":{"x":{"field":"x","type":"quantitative","scale":{"domain":[0,100],"nice":false},"axis":{"orient":"bottom","values":[0,20,40,60,80,100],"title":null}},"y":{"field":"y","type":"quantitative","scale":{"domain":[-0.5,0.5],"nice":false},"axis":{"orient":"left","values":[-0.5,0,0.5],"format":".1~f","title":null}},"color":{"field":"s","type":"nominal"}}},{"mark":{"type":"line","opacity":0},"encoding":{"x":{"field":"x","type":"quantitative","axis":{"orient":"top","values":[0,20,40,60,80,100],"labels":false,"title":null}},"y":{"field":"y","type":"quantitative","axis":{"orient":"right","values":[-0.5,0,0.5],"labels":false,"title":null}}}}],"resolve":{"axis":{"x":"independent","y":"independent"}}},
{"width":460,"height":82,"transform":[{"filter":{"field":"p","equal":4}}],"layer":[{"mark":{"type":"line","clip":true},"encoding":{"x":{"field":"x","type":"quantitative","scale":{"domain":[0,100],"nice":false},"axis":{"orient":"bottom","values":[0,20,40,60,80,100],"title":null}},"y":{"field":"y","type":"quantitative","scale":{"domain":[-0.5,0.5],"nice":false},"axis":{"orient":"left","values":[-0.5,0,0.5],"format":".1~f","title":null}},"color":{"field":"s","type":"nominal"}}},{"mark":{"type":"line","opacity":0},"encoding":{"x":{"field":"x","type":"quantitative","axis":{"orient":"top","values":[0,20,40,60,80,100],"labels":false,"title":null}},"y":{"field":"y","type":"quantitative","axis":{"orient":"right","values":[-0.5,0,0.5],"labels":false,"title":null}}}}],"resolve":{"axis":{"x":"independent","y":"independent"}}},
{"width":460,"height":82,"transform":[{"filter":{"field":"p","equal":5}}],"layer":[{"mark":{"type":"line","clip":true},"encoding":{"x":{"field":"x","type":"quantitative","scale":{"domain":[0,100],"nice":false},"axis":{"orient":"bottom","values":[0,20,40,60,80,100],"title":null}},"y":{"field":"y","type":"quantitative","scale":{"domain":[-0.5,0.5],"nice":false},"axis":{"orient":"left","values":[-0.5,0,0.5],"format":".1~f","title":null}},"color":{"field":"s","type":"nominal"}}},{"mark":{"type":"line","opacity":0},"encoding":{"x":{"field":"x","type":"quantitative","axis":{"orient":"top","values":[0,20,40,60,80,100],"labels":false,"title":null}},"y":{"field":"y","type":"quantitative","axis":{"orient":"right","values":[-0.5,0,0.5],"labels":false,"title":null}}}}],"resolve":{"axis":{"x":"independent","y":"independent"}}},
{"width":460,"height":82,"transform":[{"filter":{"field":"p","equal":6}}],"layer":[{"mark":{"type":"line","clip":true},"encoding":{"x":{"field":"x","type":"quantitative","scale":{"domain":[0,100],"nice":false},"axis":{"orient":"bottom","values":[0,20,40,60,80,100],"title":null}},"y":{"field":"y","type":"quantitative","scale":{"domain":[-0.5,0.5],"nice":false},"axis":{"orient":"left","values":[-0.5,0,0.5],"format":".1~f","title":null}},"color":{"field":"s","type":"nominal"}}},{"mark":{"type":"line","opacity":0},"encoding":{"x":{"field":"x","type":"quantitative","axis":{"orient":"top","values":[0,20,40,60,80,100],"labels":false,"title":null}},"y":{"field":"y","type":"quantitative","axis":{"orient":"right","values":[-0.5,0,0.5],"labels":false,"title":null}}}}],"resolve":{"axis":{"x":"independent","y":"independent"}}},
{"width":460,"height":82,"title":{"text":"(m)","orient":"left","anchor":"middle","font":"Liberation Serif","fontSize":20,"fontWeight":"normal","color":"#262626","offset":2,"dx":9},"transform":[{"filter":{"field":"p","equal":7}}],"layer":[{"mark":{"type":"line","clip":true},"encoding":{"x":{"field":"x","type":"quantitative","scale":{"domain":[0,100],"nice":false},"axis":{"orient":"bottom","values":[0,20,40,60,80,100],"title":null}},"y":{"field":"y","type":"quantitative","scale":{"domain":[-0.5,0.5],"nice":false},"axis":{"orient":"left","values":[-0.5,0,0.5],"format":".1~f","title":"Average","titlePadding":9}},"color":{"field":"s","type":"nominal"}}},{"mark":{"type":"line","opacity":0},"encoding":{"x":{"field":"x","type":"quantitative","axis":{"orient":"top","values":[0,20,40,60,80,100],"labels":false,"title":null}},"y":{"field":"y","type":"quantitative","axis":{"orient":"right","values":[-0.5,0,0.5],"labels":false,"title":null}}}}],"resolve":{"axis":{"x":"independent","y":"independent"}}},
{"width":460,"height":82,"transform":[{"filter":{"field":"p","equal":8}}],"layer":[{"mark":{"type":"line","clip":true},"encoding":{"x":{"field":"x","type":"quantitative","scale":{"domain":[0,100],"nice":false},"axis":{"orient":"bottom","values":[0,20,40,60,80,100],"title":null}},"y":{"field":"y","type":"quantitative","scale":{"domain":[-0.5,0.5],"nice":false},"axis":{"orient":"left","values":[-0.5,0,0.5],"format":".1~f","title":null}},"color":{"field":"s","type":"nominal"}}},{"mark":{"type":"line","opacity":0},"encoding":{"x":{"field":"x","type":"quantitative","axis":{"orient":"top","values":[0,20,40,60,80,100],"labels":false,"title":null}},"y":{"field":"y","type":"quantitative","axis":{"orient":"right","values":[-0.5,0,0.5],"labels":false,"title":null}}}}],"resolve":{"axis":{"x":"independent","y":"independent"}}},
{"width":460,"height":82,"transform":[{"filter":{"field":"p","equal":9}}],"layer":[{"mark":{"type":"line","clip":true},"encoding":{"x":{"field":"x","type":"quantitative","scale":{"domain":[0,100],"nice":false},"axis":{"orient":"bottom","values":[0,20,40,60,80,100],"title":null}},"y":{"field":"y","type":"quantitative","scale":{"domain":[-0.5,0.5],"nice":false},"axis":{"orient":"left","values":[-0.5,0,0.5],"format":".1~f","title":null}},"color":{"field":"s","type":"nominal"}}},{"mark":{"type":"line","opacity":0},"encoding":{"x":{"field":"x","type":"quantitative","axis":{"orient":"top","values":[0,20,40,60,80,100],"labels":false,"title":null}},"y":{"field":"y","type":"quantitative","axis":{"orient":"right","values":[-0.5,0,0.5],"labels":false,"title":null}}}}],"resolve":{"axis":{"x":"independent","y":"independent"}}},
{"width":460,"height":82,"transform":[{"filter":{"field":"p","equal":10}}],"layer":[{"mark":{"type":"line","clip":true},"encoding":{"x":{"field":"x","type":"quantitative","scale":{"domain":[0,100],"nice":false},"axis":{"orient":"bottom","values":[0,20,40,60,80,100],"title":null}},"y":{"field":"y","type":"quantitative","scale":{"domain":[-0.5,0.5],"nice":false},"axis":{"orient":"left","values":[-0.5,0,0.5],"format":".1~f","title":null}},"color":{"field":"s","type":"nominal"}}},{"mark":{"type":"line","opacity":0},"encoding":{"x":{"field":"x","type":"quantitative","axis":{"orient":"top","values":[0,20,40,60,80,100],"labels":false,"title":null}},"y":{"field":"y","type":"quantitative","axis":{"orient":"right","values":[-0.5,0,0.5],"labels":false,"title":null}}}}],"resolve":{"axis":{"x":"independent","y":"independent"}}},
{"width":460,"height":82,"transform":[{"filter":{"field":"p","equal":11}}],"layer":[{"mark":{"type":"line","clip":true},"encoding":{"x":{"field":"x","type":"quantitative","scale":{"domain":[0,100],"nice":false},"axis":{"orient":"bottom","values":[0,20,40,60,80,100],"title":null}},"y":{"field":"y","type":"quantitative","scale":{"domain":[-0.5,0.5],"nice":false},"axis":{"orient":"left","values":[-0.5,0,0.5],"format":".1~f","title":null}},"color":{"field":"s","type":"nominal"}}},{"mark":{"type":"line","opacity":0},"encoding":{"x":{"field":"x","type":"quantitative","axis":{"orient":"top","values":[0,20,40,60,80,100],"labels":false,"title":null}},"y":{"field":"y","type":"quantitative","axis":{"orient":"right","values":[-0.5,0,0.5],"labels":false,"title":null}}}}],"resolve":{"axis":{"x":"independent","y":"independent"}}},
{"width":460,"height":82,"transform":[{"filter":{"field":"p","equal":12}}],"layer":[{"mark":{"type":"line","clip":true},"encoding":{"x":{"field":"x","type":"quantitative","scale":{"domain":[0,100],"nice":false},"axis":{"orient":"bottom","values":[0,20,40,60,80,100],"title":"% Time"}},"y":{"field":"y","type":"quantitative","scale":{"domain":[-0.5,0.5],"nice":false},"axis":{"orient":"left","values":[-0.5,0,0.5],"format":".1~f","title":null}},"color":{"field":"s","type":"nominal"}}},{"mark":{"type":"line","opacity":0},"encoding":{"x":{"field":"x","type":"quantitative","axis":{"orient":"top","values":[0,20,40,60,80,100],"labels":false,"title":null}},"y":{"field":"y","type":"quantitative","axis":{"orient":"right","values":[-0.5,0,0.5],"labels":false,"title":null}}}}],"resolve":{"axis":{"x":"independent","y":"independent"}}},
{"width":460,"height":82,"transform":[{"filter":{"field":"p","equal":13}}],"layer":[{"mark":{"type":"line","clip":true},"encoding":{"x":{"field":"x","type":"quantitative","scale":{"domain":[0,100],"nice":false},"axis":{"orient":"bottom","values":[0,20,40,60,80,100],"title":"% Time"}},"y":{"field":"y","type":"quantitative","scale":{"domain":[-0.5,0.5],"nice":false},"axis":{"orient":"left","values":[-0.5,0,0.5],"format":".1~f","title":null}},"color":{"field":"s","type":"nominal"}}},{"mark":{"type":"line","opacity":0},"encoding":{"x":{"field":"x","type":"quantitative","axis":{"orient":"top","values":[0,20,40,60,80,100],"labels":false,"title":null}},"y":{"field":"y","type":"quantitative","axis":{"orient":"right","values":[-0.5,0,0.5],"labels":false,"title":null}}}}],"resolve":{"axis":{"x":"independent","y":"independent"}}},
{"width":460,"height":82,"transform":[{"filter":{"field":"p","equal":14}}],"layer":[{"mark":{"type":"line","clip":true},"encoding":{"x":{"field":"x","type":"quantitative","scale":{"domain":[0,100],"nice":false},"axis":{"orient":"bottom","values":[0,20,40,60,80,100],"title":"% Time"}},"y":{"field":"y","type":"quantitative","scale":{"domain":[-0.5,0.5],"nice":false},"axis":{"orient":"left","values":[-0.5,0,0.5],"format":".1~f","title":null}},"color":{"field":"s","type":"nominal"}}},{"mark":{"type":"line","opacity":0},"encoding":{"x":{"field":"x","type":"quantitative","axis":{"orient":"top","values":[0,20,40,60,80,100],"labels":false,"title":null}},"y":{"field":"y","type":"quantitative","axis":{"orient":"right","values":[-0.5,0,0.5],"labels":false,"title":null}}}}],"resolve":{"axis":{"x":"independent","y":"independent"}}}
],
"config":{
"background":"#ffffff",
"view":{"stroke":"#262626","strokeWidth":1},
"legend":{"disable":true},
"range":{"category":["#0072BD","#D95319","#EDB120","#7E2F8E","#77AC30","#4DBEEE","#A2142F","#EDB120"]},
"line":{"strokeWidth":1.5},
"axis":{"domain":false,"grid":false,"ticks":true,"tickColor":"#262626","tickSize":-5,"tickWidth":1,"labelFont":"Liberation Sans","labelFontSize":20,"labelColor":"#262626","titleFont":"Liberation Sans","titleFontSize":23,"titleFontWeight":"normal","titleColor":"#262626","labelFlush":false},
"axisX":{"labelPadding":19.5,"titlePadding":8},
"axisY":{"labelPadding":15,"titlePadding":12}
}
}
